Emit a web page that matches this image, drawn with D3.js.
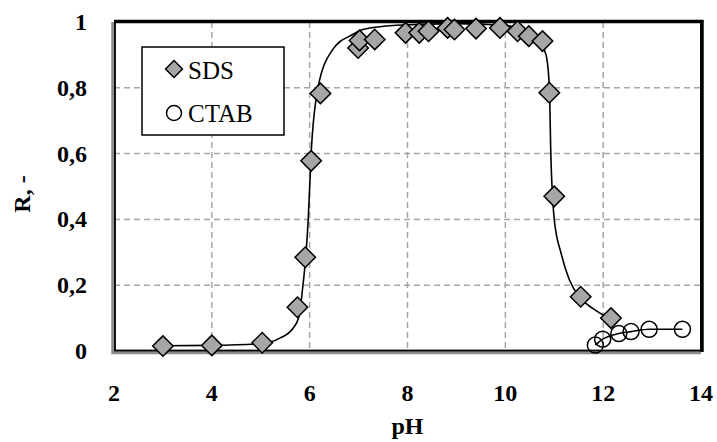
<!DOCTYPE html>
<html>
<head>
<meta charset="utf-8">
<script src="https://cdn.jsdelivr.net/npm/d3@7"></script>
<style>
  body { margin: 0; background: #fff; }
  svg { display: block; }
  text { font-family: "Liberation Serif", "Times New Roman", serif; fill: #000; }
  .tick-lbl { font-size: 24px; font-weight: bold; }
  .grid { stroke: #a6a6a6; stroke-width: 1.5; stroke-dasharray: 6,4; }
</style>
</head>
<body>
<div id="chart"></div>
<script>
// SDS measurements
var sdsPH = [3, 4, 5.03, 5.75, 5.91, 6.03, 6.22, 6.99, 7.02, 7.33, 7.96, 8.24, 8.43, 8.82, 8.96, 9.4, 9.89, 10.25, 10.48, 10.76, 10.9, 11.0, 11.54, 12.16];
var sdsR = [0.015, 0.017, 0.025, 0.133, 0.285, 0.578, 0.783, 0.921, 0.944, 0.947, 0.967, 0.967, 0.972, 0.982, 0.977, 0.98, 0.982, 0.972, 0.957, 0.942, 0.785, 0.47, 0.165, 0.10];

// CTAB measurements
var ctabPH = [11.84, 11.99, 12.32, 12.57, 12.94, 13.62];
var ctabR = [0.018, 0.036, 0.053, 0.059, 0.066, 0.066];

// fitted curve through SDS
var fitPH = [3, 4, 5, 5.39, 5.66, 5.78, 5.86, 5.92, 5.97, 6.03, 6.17, 6.47, 6.88, 7.09, 7.77, 9, 10, 10.22, 10.63, 10.83, 10.9, 10.93, 11.0, 11.14, 11.31, 11.54, 11.78, 12.16];
var fitR = [0.016, 0.017, 0.022, 0.039, 0.069, 0.104, 0.196, 0.287, 0.399, 0.6, 0.8, 0.916, 0.962, 0.977, 0.99, 0.995, 0.99, 0.982, 0.952, 0.901, 0.8, 0.6, 0.4, 0.297, 0.216, 0.16, 0.13, 0.096];

var xTicks = [2, 4, 6, 8, 10, 12, 14];
var yTicks = [0, 0.2, 0.4, 0.6, 0.8, 1];
var legendNames = ["SDS", "CTAB"];

(function chart() {
  var W = 717, H = 442;
  var m = { left: 114, right: 701, top: 22, bottom: 351 };

  var x = d3.scaleLinear().domain([2, 14]).range([m.left, m.right]);
  var y = d3.scaleLinear().domain([0, 1]).range([m.bottom, m.top]);

  var svg = d3.select("#chart").append("svg")
    .attr("width", W)
    .attr("height", H);

  // grid
  svg.append("g").selectAll("line")
    .data(xTicks.filter(function(d) { return d > 2 && d < 14; }))
    .enter().append("line")
    .attr("class", "grid")
    .attr("x1", function(d) { return x(d); })
    .attr("x2", function(d) { return x(d); })
    .attr("y1", m.top).attr("y2", m.bottom);

  svg.append("g").selectAll("line")
    .data(yTicks.filter(function(d) { return d > 0 && d < 1; }))
    .enter().append("line")
    .attr("class", "grid")
    .attr("y1", function(d) { return y(d); })
    .attr("y2", function(d) { return y(d); })
    .attr("x1", m.left).attr("x2", m.right);

  // frame: gray offset on left/bottom, black box, heavier top/right
  svg.append("path")
    .attr("d", "M" + (m.left - 1) + "," + m.top + "V" + (m.bottom + 1.5) + "H" + m.right)
    .attr("fill", "none").attr("stroke", "#8c8c8c").attr("stroke-width", 3.5);
  svg.append("rect")
    .attr("x", m.left + 1).attr("y", m.top).attr("width", m.right - m.left - 1).attr("height", m.bottom - m.top - 0.5)
    .attr("fill", "none").attr("stroke", "#000").attr("stroke-width", 1.8);
  svg.append("path")
    .attr("d", "M" + m.left + "," + (m.top - 0.5) + "H" + (m.right + 1) + "V" + (m.bottom + 1))
    .attr("fill", "none").attr("stroke", "#000").attr("stroke-width", 3.5);

  // tick labels
  var fmt = function(d) { return d3.format("~g")(d).replace(".", ","); };

  svg.append("g").selectAll("text")
    .data(yTicks)
    .enter().append("text")
    .attr("class", "tick-lbl")
    .attr("x", 87)
    .attr("y", function(d) { return y(d) + 8; })
    .attr("text-anchor", "end")
    .text(fmt);

  svg.append("g").selectAll("text")
    .data(xTicks)
    .enter().append("text")
    .attr("class", "tick-lbl")
    .attr("x", function(d) { return x(d); })
    .attr("y", 401)
    .attr("text-anchor", "middle")
    .text(fmt);

  // axis titles
  svg.append("text")
    .attr("class", "tick-lbl")
    .attr("x", (m.left + m.right) / 2)
    .attr("y", 434)
    .attr("text-anchor", "middle")
    .text("pH");

  svg.append("text")
    .attr("class", "tick-lbl")
    .attr("transform", "translate(30,194) rotate(-90)")
    .attr("text-anchor", "middle")
    .text("R, -");

  // lines
  var fit = fitPH.map(function(d, i) { return [d, fitR[i]]; });
  var ctab = ctabPH.map(function(d, i) { return [d, ctabR[i]]; });
  var sds = sdsPH.map(function(d, i) { return [d, sdsR[i]]; });

  var line = d3.line()
    .x(function(d) { return x(d[0]); })
    .y(function(d) { return y(d[1]); })
    .curve(d3.curveMonotoneX);

  svg.append("path").datum(fit)
    .attr("d", line)
    .attr("fill", "none").attr("stroke", "#000").attr("stroke-width", 1.6);

  svg.append("path").datum(ctab)
    .attr("d", line)
    .attr("fill", "none").attr("stroke", "#000").attr("stroke-width", 1.6);

  // markers
  var diamond = d3.symbol().type(d3.symbolSquare).size(210);

  svg.append("g").selectAll("path")
    .data(sds)
    .enter().append("path")
    .attr("d", diamond)
    .attr("transform", function(d) { return "translate(" + x(d[0]) + "," + y(d[1]) + ") rotate(45)"; })
    .attr("fill", "#a6a6a6").attr("stroke", "#000").attr("stroke-width", 1.5);

  svg.append("g").selectAll("circle")
    .data(ctab)
    .enter().append("circle")
    .attr("cx", function(d) { return x(d[0]); })
    .attr("cy", function(d) { return y(d[1]); })
    .attr("r", 8)
    .attr("fill", "none").attr("stroke", "#000").attr("stroke-width", 1.5);

  // legend
  var lg = svg.append("g");
  lg.append("rect")
    .attr("x", 142).attr("y", 47).attr("width", 142).attr("height", 88)
    .attr("fill", "#fff").attr("stroke", "#000").attr("stroke-width", 1.5);

  lg.append("path")
    .attr("d", d3.symbol().type(d3.symbolSquare).size(144))
    .attr("transform", "translate(174,69) rotate(45)")
    .attr("fill", "#a6a6a6").attr("stroke", "#000").attr("stroke-width", 1.5);
  lg.append("circle")
    .attr("cx", 174).attr("cy", 113).attr("r", 7.5)
    .attr("fill", "none").attr("stroke", "#000").attr("stroke-width", 1.5);

  lg.selectAll("text.name")
    .data(legendNames)
    .enter().append("text")
    .attr("class", "name")
    .attr("x", 188)
    .attr("y", function(d, i) { return 79 + i * 43; })
    .style("font-size", "25px")
    .text(function(d) { return d; });
})();
</script>
</body>
</html>
